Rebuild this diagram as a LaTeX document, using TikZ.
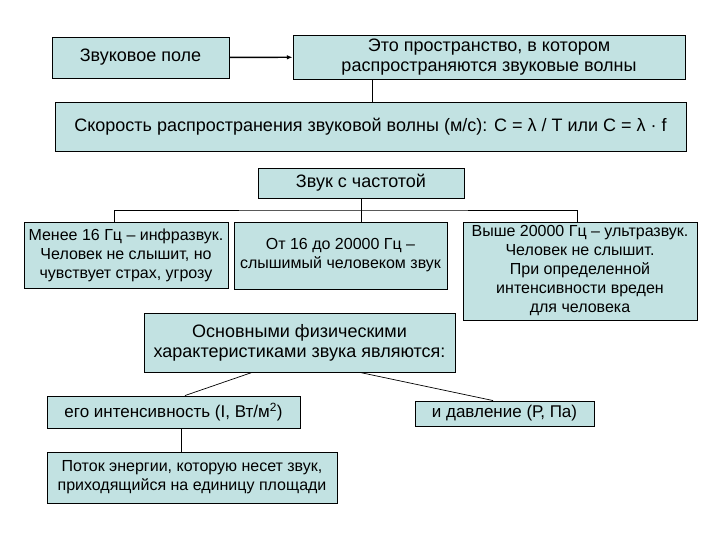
\documentclass[tikz,border=0pt]{standalone}
\usepackage{fontspec}
\setmainfont{Liberation Sans}
\usepackage{xcolor}
\usepackage{tikz}
\usetikzlibrary{arrows.meta}
\definecolor{SoundTeal}{HTML}{C2E2E2}
\tikzset{
  box/.style={draw, line width=0.9pt, fill=SoundTeal, align=center,
              inner sep=1pt, font=\fontsize{16}{19}\selectfont},
  bigbox/.style={box, font=\fontsize{18}{20}\selectfont},
  midbox/.style={box, font=\fontsize{17}{19}\selectfont},
  link/.style={line width=0.7pt},
  flow/.style={-{Latex[length=2mm,width=1.6mm]}, line width=1.4pt}
}

\begin{document}
\begin{tikzpicture}[x=1pt, y=-1pt]
  \useasboundingbox (0,0) rectangle (720,540);
  % upper row
  \node[bigbox, minimum width=177pt, minimum height=41pt] (field) at (140.5,57.5) {Звуковое поле};
  \node[bigbox, minimum width=392pt, minimum height=44pt] (space) at (489,57) {Это пространство, в котором\\распространяются звуковые волны};
  \node[bigbox, minimum width=631pt, minimum height=49pt] (speed) at (370.5,126.5) {Скорость распространения звуковой волны (м/с): С = λ / Т или С = λ · f};
  \node[bigbox, minimum width=206pt, minimum height=30pt] (freq) at (361,183) {Звук с частотой};
  % frequency ranges
  \node[box, minimum width=204pt, minimum height=66pt] (infra) at (126,255) {Менее 16 Гц – инфразвук.\\Человек не слышит, но\\чувствует страх, угрозу};
  \node[box, minimum width=213pt, minimum height=67pt] (audible) at (340.5,255.5) {От 16 до 20000 Гц –\\слышимый человеком звук};
  \node[box, minimum width=234pt, minimum height=98pt] (ultra) at (580,271) {Выше 20000 Гц – ультразвук.\\Человек не слышит.\\При определенной\\интенсивности вреден\\для человека};
  % characteristics
  \node[bigbox, minimum width=311pt, minimum height=59pt] (basic) at (299.5,342.5) {Основными физическими\\характеристиками звука являются:};
  \node[midbox, minimum width=253pt, minimum height=32pt] (intens) at (173.5,412) {его интенсивность (I, Вт/м\textsuperscript{2})};
  \node[midbox, minimum width=179pt, minimum height=25pt] (press) at (504.5,413.5) {и давление (Р, Па)};
  \node[box, minimum width=290pt, minimum height=51pt] (energy) at (192,477.5) {Поток энергии, которую несет звук,\\приходящийся на единицу площади};

  \draw[flow] (field) -- (space);
  \draw[link] ([xshift=-117pt]space.south) -- ([xshift=-117pt]space.south |- speed.north);
  \coordinate (fork) at (361,210);
  \draw[link] (freq.south) -- (fork);
  \draw[link] ([xshift=-12pt]infra.north) |- (fork) -| ([xshift=-3pt]ultra.north);
  \draw[link] (fork) -- ([xshift=20.5pt]audible.north);
  \draw[link] ([xshift=-47.5pt]basic.south) -- ([xshift=11.5pt]intens.north);
  \draw[link] ([xshift=60.5pt]basic.south) -- ([xshift=-11.5pt]press.north);
  \draw[link] ([xshift=7.5pt]intens.south) -- ([xshift=7.5pt]intens.south |- energy.north);
\end{tikzpicture}
\end{document}
